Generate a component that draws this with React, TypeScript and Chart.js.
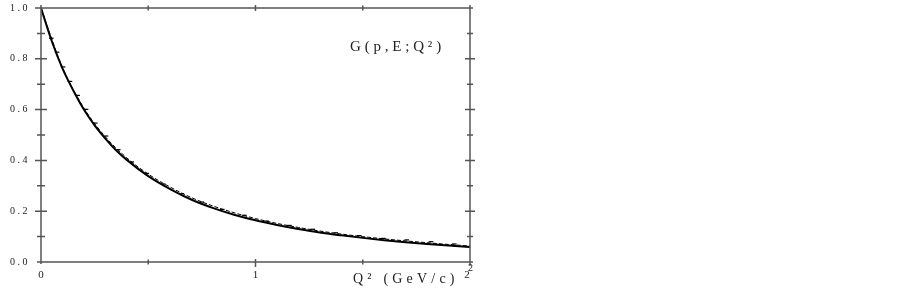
import React, { useEffect, useRef } from "react";
import { Chart, registerables } from "chart.js";

Chart.register(...registerables);

// Measured marker points (Q^2, G)
const markerQ = [0.048, 0.075, 0.103, 0.135, 0.171, 0.21, 0.253, 0.303, 0.36, 0.423, 0.493, 0.57, 0.656, 0.749, 0.845, 0.948, 1.052, 1.158, 1.267, 1.374, 1.484, 1.596, 1.705, 1.818, 1.927];
const markerG = [0.881, 0.826, 0.768, 0.711, 0.656, 0.601, 0.547, 0.496, 0.442, 0.394, 0.349, 0.307, 0.269, 0.236, 0.207, 0.184, 0.161, 0.144, 0.129, 0.115, 0.104, 0.093, 0.087, 0.08, 0.071];

// Solid curve
const solidQ = [0, 0.05, 0.1, 0.15, 0.2, 0.25, 0.3, 0.35, 0.4, 0.5, 0.6, 0.7, 0.8, 0.9, 1.0, 1.1, 1.2, 1.3, 1.4, 1.5, 1.6, 1.7, 1.8, 1.9, 2.0];
const solidG = [1.0, 0.87, 0.762, 0.676, 0.6, 0.538, 0.486, 0.44, 0.402, 0.338, 0.288, 0.246, 0.213, 0.186, 0.164, 0.146, 0.13, 0.116, 0.105, 0.095, 0.086, 0.078, 0.071, 0.065, 0.059];

// Thin dashed curve just above the solid one
const dashQ = [0, 0.1, 0.2, 0.3, 0.4, 0.5, 0.6, 0.7, 0.8, 0.9, 1.0, 1.1, 1.2, 1.3, 1.4, 1.5, 1.6, 1.7, 1.8, 1.9, 2.0];
const dashG = [1.0, 0.766, 0.606, 0.493, 0.41, 0.346, 0.296, 0.254, 0.221, 0.194, 0.171, 0.152, 0.136, 0.122, 0.11, 0.1, 0.091, 0.083, 0.076, 0.069, 0.063];

const yTickValues = [0, 0.2, 0.4, 0.6, 0.8, 1.0];
const yTickLabels = ["0.0", "0.2", "0.4", "0.6", "0.8", "1.0"];
const xTickValues = [0, 1, 2];
const xTickLabels = ["0", "1", "2"];
const xMinorTicks = [0.5, 1.5];

const insetLabel = "G(p,E;Q²)";
const xTitle = "Q² (GeV/c)";

function spaced(ctx: CanvasRenderingContext2D, text: string, x: number, y: number, sp: number) {
  let cx = x;
  for (const ch of Array.from(text)) {
    ctx.fillText(ch, cx, y);
    cx += ctx.measureText(ch).width + sp;
  }
  return cx;
}

const framePlugin = {
  id: "frame",
  afterDraw(chart: any) {
    const ctx: CanvasRenderingContext2D = chart.ctx;
    const xs = chart.scales.x;
    const ys = chart.scales.y;
    const { left, right, top, bottom } = chart.chartArea;
    ctx.save();
    ctx.strokeStyle = "#555";
    ctx.lineWidth = 1.5;
    ctx.beginPath();
    ctx.moveTo(left, top - 3); ctx.lineTo(left, bottom + 2);
    ctx.moveTo(left - 4, bottom); ctx.lineTo(right + 3, bottom);
    ctx.moveTo(left - 4, top); ctx.lineTo(right + 3, top);
    ctx.moveTo(right, top - 3); ctx.lineTo(right, bottom + 4);
    for (let i = 0; i <= 10; i++) {
      const py = ys.getPixelForValue(i / 10);
      const major = i % 2 === 0;
      const l = major ? 6 : 4;
      const r = major ? 5 : 3;
      if (i > 0 && i < 10) {
        ctx.moveTo(left - l, py); ctx.lineTo(left + l, py);
        ctx.moveTo(right - r, py); ctx.lineTo(right + r, py);
      } else if (i === 10) {
        ctx.moveTo(left - l, py); ctx.lineTo(left, py);
      }
    }
    for (const v of xMinorTicks) {
      const px = xs.getPixelForValue(v);
      ctx.moveTo(px, bottom - 2.5); ctx.lineTo(px, bottom + 2.5);
      ctx.moveTo(px, top - 2.5); ctx.lineTo(px, top + 2.5);
    }
    const p1 = xs.getPixelForValue(1);
    ctx.moveTo(p1, bottom - 3); ctx.lineTo(p1, bottom + 5);
    ctx.moveTo(p1, top - 3); ctx.lineTo(p1, top + 3);
    ctx.stroke();

    ctx.fillStyle = "#222";
    ctx.textBaseline = "middle";
    ctx.textAlign = "left";
    ctx.font = '10px "Liberation Serif"';
    yTickValues.forEach((v, i) => {
      spaced(ctx, yTickLabels[i], 10, ys.getPixelForValue(v), 2.5);
    });
    ctx.textAlign = "center";
    ctx.font = '11px "Liberation Serif"';
    xTickValues.forEach((v, i) => {
      const px = xs.getPixelForValue(v) - (i === 2 ? 3 : 0);
      ctx.fillText(xTickLabels[i], px, 275);
    });
    ctx.textAlign = "left";
    ctx.font = '14px "Liberation Serif"';
    spaced(ctx, xTitle, 353, 279, 4.2);
    ctx.font = '10px "Liberation Serif"';
    ctx.fillText("2", right - 2, 268);
    ctx.font = '15px "Liberation Serif"';
    spaced(ctx, insetLabel, 350, 47, 3.8);
    ctx.restore();
  },
};

export default function App() {
  const ref = useRef<HTMLCanvasElement>(null);
  useEffect(() => {
    if (!ref.current) return;
    const toPts = (xa: number[], ya: number[]) => xa.map((x, i) => ({ x, y: ya[i] }));
    const chart = new Chart(ref.current, {
      type: "scatter",
      data: {
        datasets: [
          {
            data: toPts(markerQ, markerG),
            showLine: false,
            pointStyle: "line",
            pointRadius: 2.3,
            borderColor: "#000",
            backgroundColor: "#000",
            borderWidth: 1.2,
          },
          {
            data: toPts(dashQ, dashG),
            showLine: true,
            pointRadius: 0,
            borderColor: "#000",
            borderWidth: 1,
            borderDash: [4, 2],
            cubicInterpolationMode: "monotone",
          },
          {
            data: toPts(solidQ, solidG),
            showLine: true,
            pointRadius: 0,
            borderColor: "#000",
            borderWidth: 2,
            cubicInterpolationMode: "monotone",
          },
        ],
      } as any,
      options: {
        animation: false,
        responsive: false,
        devicePixelRatio: 1,
        layout: { padding: { left: 41, top: 8, right: 432, bottom: 28 } },
        scales: {
          x: { type: "linear", min: 0, max: 2, display: false },
          y: { type: "linear", min: 0, max: 1, display: false },
        },
        plugins: { legend: { display: false }, tooltip: { enabled: false } },
      },
      plugins: [framePlugin],
    });
    return () => chart.destroy();
  }, []);
  return (
    <div style={{ position: "absolute", left: 0, top: 0, width: 902, height: 290, background: "#fff" }}>
      <canvas ref={ref} width={902} height={290} />
    </div>
  );
}
